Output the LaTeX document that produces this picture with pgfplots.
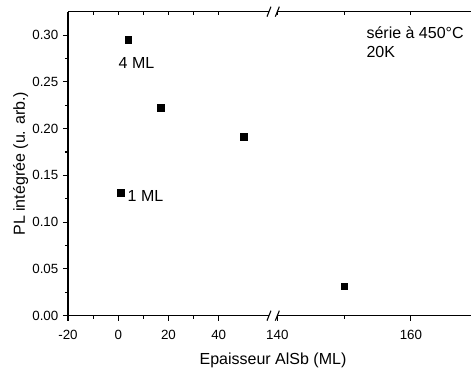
\documentclass[border=0pt]{standalone}
\usepackage{pgfplots}
\pgfplotsset{compat=1.18}
\usepackage{fontspec}
\setmainfont{Liberation Sans}
\begin{document}
\begin{tikzpicture}[x=1pt,y=1pt]
\path[use as bounding box] (0,0) rectangle (353.25pt,276.75pt);
\pgfplotsset{
  base/.style={
    scale only axis, height=228pt, ymin=0, ymax=0.325,
    /pgf/number format/assume math mode=true,
    tick label style={font=\fontsize{10}{12}\selectfont},
    axis line style={line width=0.8pt},
    every tick/.style={line width=0.8pt, black},
    clip=false,
  },
  bot/.style={
    axis x line*=bottom, tick align=outside,
    major tick length=3.75pt, minor tick length=2.25pt,
    xticklabel style={yshift=-3.5pt},
  },
  topl/.style={
    axis x line*=top, axis y line=none, tick align=inside,
    xticklabels={}, major tick length=2.25pt, minor tick length=2.25pt,
  },
}
% left segment
\begin{axis}[base, bot, at={(51pt,40pt)}, anchor=south west, width=150.75pt,
  xmin=-20, xmax=60, xtick={-20,0,20,40}, minor x tick num=1,
  axis y line*=left,
  ytick={0,0.05,0.10,0.15,0.20,0.25,0.30}, minor y tick num=1,
  yticklabel style={/pgf/number format/.cd, fixed, fixed zerofill, precision=2},
]
\addplot[only marks, mark=square*, mark size=2.5pt, black] coordinates {
  (1,0.1315) (4,0.2947) (17,0.2223) (50,0.1913)
};
\node[anchor=west, font=\fontsize{12}{14}\selectfont] at (axis cs:-1.7,0.2705) {4 ML};
\node[anchor=west, font=\fontsize{12}{14}\selectfont] at (axis cs:1.9,0.128) {1 ML};
\node[rotate=90, font=\fontsize{12}{14}\selectfont] at (axis description cs:-0.235,0.5) {PL intégrée (u. arb.)};
\node[font=\fontsize{12}{14}\selectfont] at (axis description cs:1.02,-0.146) {Epaisseur AlSb (ML)};
\end{axis}
\begin{axis}[base, topl, at={(51pt,40pt)}, anchor=south west, width=150.75pt,
  xmin=-20, xmax=60, xtick={-20,0,20,40}, minor x tick num=1]
\end{axis}
% right segment
\begin{axis}[base, bot, at={(208pt,40pt)}, anchor=south west, width=145.25pt,
  xmin=140, xmax=169, xtick={140,160}, minor x tick num=1,
  axis y line=none,
]
\addplot[only marks, mark=square*, mark size=2.5pt, black] coordinates {
  (150,0.0314)
};
\node[anchor=west, font=\fontsize{12}{14}\selectfont] at (axis cs:152.65,0.302) {série à 450°C};
\node[anchor=west, font=\fontsize{12}{14}\selectfont] at (axis cs:152.65,0.282) {20K};
\end{axis}
\begin{axis}[base, topl, at={(208pt,40pt)}, anchor=south west, width=145.25pt,
  xmin=140, xmax=169, xtick={140,160}, minor x tick num=1]
\end{axis}
% axis break marks
\foreach \yy in {40,268} {
  \draw[line width=0.8pt] (200.25pt,\yy pt-3.75pt) -- (203.25pt,\yy pt+3.75pt);
  \draw[line width=0.8pt] (206.5pt,\yy pt-3.75pt) -- (209.5pt,\yy pt+3.75pt);
}
\end{tikzpicture}
\end{document}
